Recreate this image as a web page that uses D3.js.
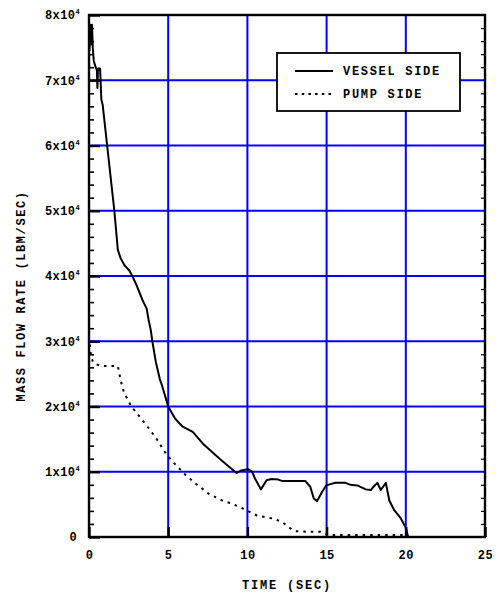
<!DOCTYPE html>
<html>
<head>
<meta charset="utf-8">
<script src="https://cdn.jsdelivr.net/npm/d3@7"></script>
<style>
  body { margin: 0; background: #fff; }
  svg text { font-family: "Liberation Mono", "DejaVu Sans Mono", monospace; font-weight: bold; fill: #000; }
</style>
</head>
<body>
<svg id="canvas" width="500" height="596"></svg>
<script>
// vessel side (solid)
var timeVessel = [0.03,0.08,0.14,0.19,0.24,0.3,0.42,0.5,0.53,0.57,0.7,0.78,0.86,1.6,1.82,2.0,2.25,2.56,2.73,3.0,3.38,3.64,3.77,3.9,4.0,4.22,4.47,4.6,5.0,5.45,5.92,6.55,7.19,8.25,8.88,9.31,9.62,10.05,10.3,10.47,10.85,11.21,11.53,11.96,12.17,13.65,13.97,14.19,14.4,14.71,14.97,15.24,15.56,16.2,16.5,16.94,17.47,17.79,17.96,18.21,18.42,18.74,18.96,19.27,19.7,20.0,20.15];
var flowVessel = [74500,78500,75500,78500,75000,73000,72000,71500,68800,71800,71800,67000,66300,50000,44000,42700,41600,40800,40000,38600,36300,35000,33200,31700,30000,26800,24200,23300,20000,18100,16900,16100,14300,12000,10700,9800,10200,10400,10000,9000,7300,8700,8900,8800,8600,8600,7700,5900,5500,6900,7900,8100,8300,8300,8000,7900,7300,7200,7700,8300,7200,8300,5600,4100,2800,1400,0];

// pump side (dotted)
var timePump = [0.05,0.12,0.25,0.4,0.8,1.35,1.82,2.0,2.2,2.67,3.05,3.47,3.79,4.22,4.85,5.3,6.1,6.73,7.57,8.41,9.04,9.77,10.6,11.67,12.2,12.6,13.0,13.75,14.6,15.1,17.3,18.0,20.0];
var flowPump = [29500,27800,26800,26500,26200,26200,26200,24000,22200,20000,18900,17600,16600,15200,12800,11500,9500,8200,6600,5600,5100,4300,3300,2800,2300,1500,900,800,800,300,300,300,300];

var xTicks = [0,5,10,15,20,25];
var yTicks = [0,10000,20000,30000,40000,50000,60000,70000,80000];
var legendLabels = ["VESSEL SIDE", "PUMP SIDE"];

var svg = d3.select("#canvas");
var pLeft = 89, pRight = 485, pTop = 15, pBottom = 537;

var x = d3.scaleLinear().domain([0,25]).range([pLeft,pRight]);
var y = d3.scaleLinear().domain([0,80000]).range([pBottom,pTop]);

var minorY = d3.range(0, 80001, 2000).filter(function(d){ return d % 10000 != 0; });

// grid
svg.append("g").selectAll("line").data(xTicks.slice(1,-1)).join("line")
    .attr("x1", function(d){ return x(d); }).attr("x2", function(d){ return x(d); })
    .attr("y1", pTop).attr("y2", pBottom)
    .attr("stroke", "#0000ff").attr("stroke-width", 2);
svg.append("g").selectAll("line").data(yTicks.slice(1,-1)).join("line")
    .attr("y1", function(d){ return y(d); }).attr("y2", function(d){ return y(d); })
    .attr("x1", pLeft).attr("x2", pRight)
    .attr("stroke", "#0000ff").attr("stroke-width", 2);

// minor ticks left and right
svg.append("g").attr("transform", "translate("+pLeft+",0)")
    .call(d3.axisLeft(y).tickValues(minorY).tickSize(-5).tickFormat(""))
    .call(function(g){ g.select(".domain").remove(); g.selectAll("line").attr("stroke-width", 1.6); });
svg.append("g").attr("transform", "translate("+pRight+",0)")
    .call(d3.axisRight(y).tickValues(minorY).tickSize(-4).tickFormat(""))
    .call(function(g){ g.select(".domain").remove(); g.selectAll("line").attr("stroke-width", 1.2); });

// major left axis
var yAxis = svg.append("g").attr("transform", "translate("+pLeft+",0)")
    .call(d3.axisLeft(y).tickValues(yTicks).tickSize(-11).tickPadding(14).tickFormat(""));
yAxis.select(".domain").remove();
yAxis.selectAll("line").attr("stroke-width", 2.4);
yAxis.selectAll(".tick text").each(function(d){
    var t = d3.select(this).attr("font-size", 12).attr("text-anchor", "end").style("letter-spacing", "0.4px");
    if (d == 0) {
        t.attr("x", -12).text("0");
    } else {
        t.attr("x", -9);
        t.append("tspan").text((d/10000)+"x10");
        t.append("tspan").attr("dy", -5).attr("font-size", 7).text("4");
    }
});

// bottom axis
var xAxis = svg.append("g").attr("transform", "translate(0,"+pBottom+")")
    .call(d3.axisBottom(x).tickValues(xTicks).tickSize(-10).tickPadding(13).tickFormat(d3.format("d")));
xAxis.select(".domain").remove();
xAxis.selectAll("line").attr("stroke-width", 2.4);
xAxis.selectAll("text").attr("font-size", 12).style("letter-spacing", "0.5px");

// frame
svg.append("rect").attr("x", pLeft).attr("y", pTop)
    .attr("width", pRight-pLeft).attr("height", pBottom-pTop)
    .attr("fill", "none").attr("stroke", "#000").attr("stroke-width", 2.4);

// lines
var line = d3.line()
    .x(function(d){ return x(d[0]); })
    .y(function(d){ return y(d[1]); });

svg.append("path").datum(d3.zip(timePump, flowPump))
    .attr("d", line).attr("fill", "none").attr("stroke", "#000")
    .attr("stroke-width", 2).attr("stroke-dasharray", "2.5,5");
svg.append("path").datum(d3.zip(timeVessel, flowVessel))
    .attr("d", line).attr("fill", "none").attr("stroke", "#000")
    .attr("stroke-width", 2).attr("stroke-linejoin", "round");

// legend
var lg = svg.append("g");
lg.append("rect").attr("x", 277).attr("y", 53).attr("width", 183).attr("height", 58)
    .attr("fill", "#fff").attr("stroke", "#000").attr("stroke-width", 1.8);
lg.append("line").attr("x1", 295).attr("x2", 333).attr("y1", 71).attr("y2", 71)
    .attr("stroke", "#000").attr("stroke-width", 2);
lg.append("line").attr("x1", 295).attr("x2", 333).attr("y1", 94).attr("y2", 94)
    .attr("stroke", "#000").attr("stroke-width", 2).attr("stroke-dasharray", "2.5,4.2");
lg.selectAll("text").data(legendLabels).join("text")
    .attr("x", 343).attr("y", function(d,i){ return 71 + i*23; })
    .attr("dy", "0.35em").attr("font-size", 12).style("letter-spacing", "1.7px")
    .text(function(d){ return d; });

// axis titles
svg.append("text").attr("x", (pLeft+pRight)/2).attr("y", 585).attr("dy", "0.35em")
    .attr("text-anchor", "middle").attr("font-size", 12).style("letter-spacing", "1.8px")
    .text("TIME (SEC)");
svg.append("text").attr("transform", "translate(21,296) rotate(-90)")
    .attr("dy", "0.35em").attr("text-anchor", "middle").attr("font-size", 12).style("letter-spacing", "1.6px")
    .text("MASS FLOW RATE (LBM/SEC)");
</script>
</body>
</html>
